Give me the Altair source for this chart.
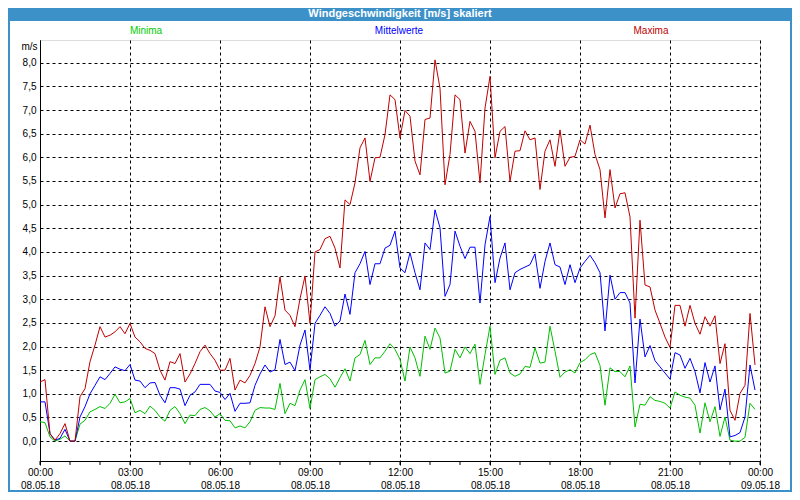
import altair as alt
import pandas as pd

# 10-minute values, 08.05.18 00:00 .. 23:50
minima = [0.41, 0.39, 0.09, 0.00, 0.04, 0.11, 0.00, 0.00, 0.36, 0.44,
          0.62, 0.67, 0.73, 0.69, 0.80, 0.99, 0.81, 0.83, 0.90, 0.60,
          0.65, 0.58, 0.74, 0.65, 0.51, 0.42, 0.65, 0.73, 0.58, 0.37,
          0.55, 0.54, 0.67, 0.71, 0.64, 0.51, 0.58, 0.44, 0.43, 0.28,
          0.32, 0.28, 0.41, 0.65, 0.71, 0.70, 0.70, 0.67, 1.22, 0.58,
          0.80, 0.75, 1.08, 1.30, 0.69, 1.30, 1.36, 1.41, 1.32, 1.14,
          1.34, 1.53, 1.27, 1.76, 1.83, 2.13, 1.62, 1.76, 1.76, 1.90,
          2.06, 1.94, 1.73, 1.27, 1.99, 1.76, 1.37, 2.22, 1.94, 2.39,
          2.18, 1.44, 1.48, 1.94, 1.76, 1.99, 1.85, 2.05, 1.20, 1.83,
          2.43, 1.41, 1.71, 1.76, 1.44, 1.37, 1.42, 1.58, 1.56, 1.97,
          1.65, 1.67, 2.43, 1.90, 1.35, 1.46, 1.51, 1.44, 1.66, 1.72,
          1.83, 1.87, 1.60, 0.76, 1.55, 1.47, 1.47, 1.36, 1.59, 0.30,
          0.78, 0.76, 0.94, 0.86, 0.84, 0.80, 0.70, 1.04, 0.97, 0.93,
          0.91, 0.76, 0.17, 0.81, 0.41, 0.73, 0.10, 0.51, 0.02, 0.00,
          0.00, 0.08, 0.80, 0.67]

mittelwerte = [0.83, 0.83, 0.16, 0.02, 0.06, 0.25, 0.00, 0.00, 0.51, 0.73,
               1.00, 1.18, 1.36, 1.30, 1.43, 1.57, 1.52, 1.49, 1.62, 1.29,
               1.27, 1.13, 1.23, 1.24, 0.97, 0.81, 1.13, 1.13, 1.10, 0.75,
               0.97, 1.04, 1.20, 1.20, 1.20, 1.06, 1.03, 0.88, 1.01, 0.63,
               0.80, 0.80, 0.81, 1.18, 1.42, 1.61, 1.46, 1.51, 2.15, 1.62,
               1.67, 1.49, 2.03, 2.35, 1.50, 2.49, 2.66, 2.84, 2.70, 2.43,
               2.54, 3.11, 2.68, 3.56, 3.75, 4.01, 3.31, 3.75, 3.75, 4.08,
               4.14, 4.44, 3.66, 3.56, 3.98, 3.56, 3.20, 4.19, 4.05, 4.89,
               4.51, 3.06, 3.31, 4.44, 4.12, 3.86, 4.10, 4.10, 2.92, 4.15,
               4.75, 3.35, 3.87, 4.19, 3.20, 3.56, 3.63, 3.68, 3.73, 3.96,
               3.23, 3.80, 4.19, 3.73, 3.68, 3.31, 3.73, 3.35, 3.66, 3.80,
               3.93, 3.77, 3.56, 2.33, 3.51, 3.00, 3.14, 3.14, 2.92, 1.23,
               2.58, 1.78, 2.02, 1.70, 1.57, 1.44, 1.31, 1.87, 1.82, 1.54,
               1.75, 1.47, 1.02, 1.66, 1.25, 1.59, 0.66, 1.10, 0.09, 0.12,
               0.18, 0.51, 1.61, 1.08]

maxima = [1.25, 1.30, 0.15, 0.02, 0.16, 0.37, 0.00, 0.00, 0.94, 1.11,
          1.68, 2.03, 2.42, 2.20, 2.24, 2.31, 2.42, 2.27, 2.49, 2.20,
          2.10, 1.96, 1.92, 1.85, 1.50, 1.29, 1.68, 1.64, 1.85, 1.25,
          1.42, 1.64, 1.89, 2.03, 1.85, 1.71, 1.50, 1.50, 1.75, 1.08,
          1.29, 1.23, 1.39, 1.64, 1.99, 2.84, 2.42, 2.65, 3.47, 2.77,
          2.66, 2.42, 3.01, 3.49, 2.49, 4.00, 4.05, 4.28, 4.33, 4.08,
          3.66, 5.10, 5.00, 5.46, 6.20, 6.41, 5.49, 5.99, 6.00, 6.48,
          7.32, 7.22, 6.41, 6.99, 6.87, 5.92, 5.63, 6.80, 6.83, 8.06,
          7.46, 5.42, 6.06, 7.32, 7.22, 6.09, 6.76, 6.55, 5.46, 7.04,
          7.71, 5.99, 6.55, 6.65, 5.49, 6.13, 6.14, 6.56, 6.37, 6.41,
          5.32, 6.13, 6.37, 5.81, 6.58, 5.81, 6.00, 6.02, 6.37, 6.28,
          6.68, 6.06, 5.74, 4.72, 5.74, 4.93, 5.23, 5.25, 4.74, 2.60,
          4.67, 3.30, 3.26, 2.77, 2.49, 2.20, 1.98, 2.87, 2.87, 2.43,
          2.87, 2.49, 2.26, 2.63, 2.43, 2.65, 1.64, 2.06, 0.65, 0.44,
          1.01, 1.18, 2.70, 1.61]

series_names = ["Minima", "Mittelwerte", "Maxima"]
series_colors = ["#00c000", "#0000ff", "#c00000"]
label_colors = ["#00cc00", "#0000ff", "#c00000"]
major_hours = [0, 3, 6, 9, 12, 15, 18, 21, 24]
minor_hours = list(range(0, 25))
y_ticks = [i * 0.5 for i in range(17)]

n = len(maxima)
hours = [i * 10 / 60 for i in range(n)]
df = pd.DataFrame({
    "h": hours * 3,
    "v": minima + mittelwerte + maxima,
    "s": [series_names[0]] * n + [series_names[1]] * n + [series_names[2]] * n,
})

FONT = "Liberation Sans"
W, H = 720, 421

x_enc = alt.X(
    "h:Q",
    scale=alt.Scale(domain=[0, 24], nice=False, zero=False),
    axis=alt.Axis(
        values=major_hours,
        labelExpr="datum.value == 24 ? ['00:00', '09.05.18'] : [(datum.value < 10 ? '0' : '') + datum.value + ':00', '08.05.18']",
        grid=True, gridDash=[3, 3], gridColor="black", gridOpacity=1,
        tickSize=4, tickColor="black", domainColor="black",
        labelFont=FONT, labelFontSize=10, labelColor="black",
        labelPadding=2, labelLineHeight=13, labelFlush=False,
        labelOverlap=False, title=None,
    ),
)
y_enc = alt.Y(
    "v:Q",
    scale=alt.Scale(domain=[-0.42, 8.48], nice=False, zero=False),
    axis=alt.Axis(
        values=y_ticks,
        labelExpr="replace(format(datum.value, '.1f'), '.', ',')",
        grid=True, gridDash=[3, 3], gridColor="black", gridOpacity=1,
        tickSize=0, domainColor="black",
        labelFont=FONT, labelFontSize=10, labelColor="black",
        labelPadding=4, labelOverlap=False,
        title="m/s", titleAngle=0, titleAlign="right", titleBaseline="middle",
        titleX=-3, titleY=6, titleFont=FONT, titleFontSize=10,
        titleFontWeight="normal", titleColor="black",
    ),
)

lines = alt.Chart(df).mark_line(strokeWidth=1, interpolate="linear").encode(
    x=x_enc,
    y=y_enc,
    color=alt.Color("s:N", scale=alt.Scale(domain=series_names, range=series_colors), legend=None),
    order=alt.Order("h:Q"),
)

minor = alt.Chart(pd.DataFrame({"hh": minor_hours})).mark_rule(color="black", strokeWidth=1).encode(
    x=alt.X("hh:Q"),
    y=alt.value(H),
    y2=alt.value(H + 4),
)

one = pd.DataFrame({"k": [0]})
title_bar = alt.Chart(one).mark_rect(color="#3d91c9").encode(
    x=alt.value(-32), x2=alt.value(W + 32), y=alt.value(-32), y2=alt.value(-19)
)
frame = alt.Chart(one).mark_rect(fill=None, stroke="#3d91c9", strokeWidth=2).encode(
    x=alt.value(-31), x2=alt.value(W + 31), y=alt.value(-31), y2=alt.value(H + 30)
)
title_txt = alt.Chart(one).mark_text(
    text="Windgeschwindigkeit [m/s] skaliert", color="white", font=FONT,
    fontSize=11, fontWeight="bold", align="center", baseline="middle",
).encode(x=alt.value(W / 2), y=alt.value(-26))

legend_layers = []
legend_x = [106, 359, 611]
for name, col, lx in zip(series_names, label_colors, legend_x):
    legend_layers.append(
        alt.Chart(one).mark_text(
            text=name, color=col, font=FONT, fontSize=10, align="center", baseline="middle"
        ).encode(x=alt.value(lx), y=alt.value(-9))
    )

chart = alt.layer(lines, minor, title_bar, frame, title_txt, *legend_layers).properties(
    width=W, height=H,
    autosize=alt.AutoSizeParams(type="none"),
    padding={"left": 32, "top": 32, "right": 32, "bottom": 31},
).configure_view(stroke="black", strokeWidth=1).configure(background="white")

chart.save("out.html", embed_options={"renderer": "svg", "actions": False})
